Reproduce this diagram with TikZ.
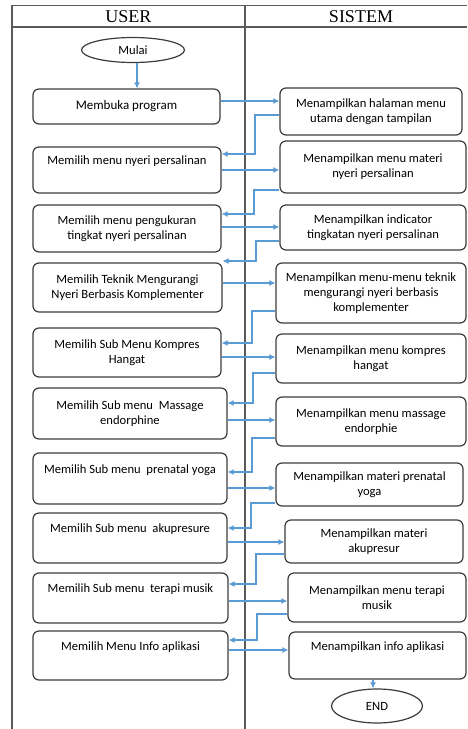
\documentclass[tikz,border=0pt]{standalone}
\usepackage{fontspec}
\setmainfont{Carlito}
\newfontfamily\headfont{Liberation Serif}
\usetikzlibrary{arrows.meta,positioning,calc,shapes.geometric}
\definecolor{lanegray}{HTML}{5A5A5A}
\definecolor{boxgray}{HTML}{3C3C3C}
\definecolor{flowblue}{HTML}{5B9BD5}

\begin{document}
\begin{tikzpicture}[
    x=1pt, y=-1pt,
    >={Latex[length=6pt,width=6pt]},
    lane/.style    = {draw=lanegray, line width=1.5pt},
    head/.style    = {font=\headfont\fontsize{18}{20}\selectfont, inner sep=0pt},
    ubox/.style    = {draw=boxgray, fill=white, rounded corners=6pt, line width=1.2pt,
                      align=center, inner sep=2pt,
                      font=\fontsize{12.6}{15}\selectfont},
    terminal/.style= {ellipse, draw=boxgray, fill=white, line width=1.2pt,
                      inner sep=0pt, font=\fontsize{12.6}{15}\selectfont},
    flow/.style    = {draw=flowblue, line width=1.2pt, ->},
  ]
  \useasboundingbox (0,0) rectangle (467,729);

  % --- Swimlanes ---------------------------------------------------------
  \draw[lane] (12,729) -- (12,5.5) -- (467,5.5);
  \draw[lane] (12,27) -- (467,27);
  \draw[lane] (245,5.5) -- (245,729);
  \node[head] (huser) at (128.5,16.5) {USER};
  \node[head] (hsis)  at (361,16.5)  {SISTEM};

  % --- USER --------------------------------------------------------------
  \node[terminal, minimum width=103, minimum height=25] (mulai) at (133,50) {Mulai};
  \node[ubox, minimum width=187, minimum height=35,
        font=\fontsize{13}{15}\selectfont] (u1) at (126.5,106.5) {Membuka program};
  \node[ubox, minimum width=188, minimum height=46] (u2) at (127,170)
    {Memilih menu nyeri persalinan\\\strut};
  \node[ubox, minimum width=188, minimum height=47] (u3) at (127,228.5)
    {Memilih menu pengukuran\\tingkat nyeri persalinan};
  \node[ubox, minimum width=189, minimum height=49] (u4) at (127.5,287.5)
    {Memilih Teknik Mengurangi\\Nyeri Berbasis Komplementer};
  \node[ubox, minimum width=188, minimum height=49] (u5) at (127,352.5)
    {Memilih Sub Menu Kompres\\Hangat};
  \node[ubox, minimum width=194, minimum height=51] (u6) at (130,413.5)
    {Memilih Sub menu\ \ Massage\\endorphine};
  \node[ubox, minimum width=194, minimum height=51] (u7) at (130,478.5)
    {Memilih Sub menu\ \ prenatal yoga\\\strut};
  \node[ubox, minimum width=194, minimum height=50] (u8) at (130,538)
    {Memilih Sub menu\ \ akupresure\\\strut};
  \node[ubox, minimum width=195, minimum height=50] (u9) at (130.5,598)
    {Memilih Sub menu\ \ terapi musik\\\strut};
  \node[ubox, minimum width=195, minimum height=49] (u10) at (130.5,655.5)
    {Memilih Menu Info aplikasi\\\strut};

  % --- SISTEM ------------------------------------------------------------
  \node[ubox, minimum width=182, minimum height=47] (s1) at (371,111.5)
    {Menampilkan halaman menu\\utama dengan tampilan};
  \node[ubox, minimum width=186, minimum height=52] (s2) at (373,167)
    {Menampilkan menu materi\\nyeri persalinan};
  \node[ubox, minimum width=186, minimum height=45] (s3) at (373,227.5)
    {Menampilkan indicator\\tingkatan nyeri persalinan};
  \node[ubox, minimum width=190, minimum height=60] (s4) at (371,293)
    {Menampilkan menu-menu teknik\\mengurangi nyeri berbasis\\komplementer};
  \node[ubox, minimum width=190, minimum height=49] (s5) at (371,358.5)
    {Menampilkan menu kompres\\hangat};
  \node[ubox, minimum width=190, minimum height=49] (s6) at (371,421.5)
    {Menampilkan menu massage\\endorphie};
  \node[ubox, minimum width=187, minimum height=43] (s7) at (369.5,484.5)
    {Menampilkan materi prenatal\\yoga};
  \node[ubox, minimum width=178, minimum height=43] (s8) at (374,541.5)
    {Menampilkan materi\\akupresur};
  \node[ubox, minimum width=178, minimum height=49] (s9) at (377,597.5)
    {Menampilkan menu terapi\\musik};
  \node[ubox, minimum width=177, minimum height=47] (s10) at (377.5,655.5)
    {Menampilkan info aplikasi\\\strut};
  \node[terminal, minimum width=91, minimum height=34] (stop) at (377,706) {END};

  % --- Flow --------------------------------------------------------------
  \draw[flow] ([xshift=4pt]mulai.south) -- ([xshift=4pt]mulai.south |- u1.north);
  \draw[flow] ([xshift=-4pt]stop.north |- s10.south) -- ([xshift=-4pt]stop.north);

  % user -> sistem
  \foreach \i/\y in {1/101,2/170,3/227,4/283,5/357,6/420,7/488,8/542,9/601,10/650}{
    \draw[flow] (u\i.east |- 0,\y) -- (s\i.west |- 0,\y);
  }
  % sistem -> next user step
  \foreach \a/\b/\ys/\xe/\ye in {1/2/115/255/154, 2/3/190/254/214, 3/4/241/256/261,
                                4/5/311/252/343, 5/6/373/253/403, 6/7/438/252/472,
                                7/8/503/251/528, 8/9/554/256/584, 9/10/614/257/640}{
    \draw[flow] (s\a.west |- 0,\ys) -| (\xe,\ye) -- (u\b.east |- 0,\ye);
  }

\end{tikzpicture}
\end{document}
